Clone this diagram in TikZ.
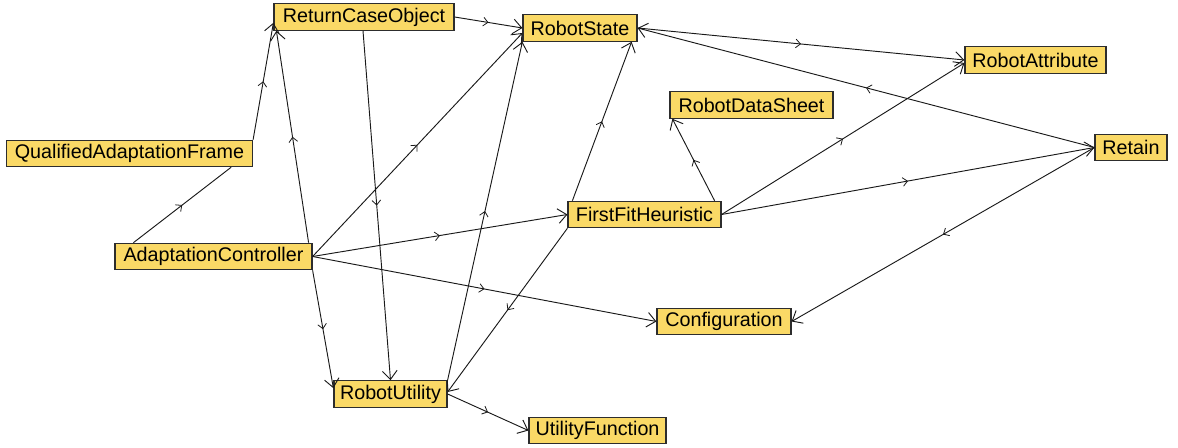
\documentclass[tikz,border=0pt]{standalone}
\usepackage{fontspec}
\setmainfont{Liberation Sans}
\usetikzlibrary{arrows.meta,decorations.markings,calc}
\definecolor{boxfill}{RGB}{250,217,102}
\definecolor{boxline}{RGB}{45,45,45}
\definecolor{edgecol}{RGB}{25,25,25}
\begin{document}
\begin{tikzpicture}[x=0.75pt,y=-0.75pt,
  cls/.style={draw=boxline, fill=boxfill, line width=0.9pt, inner sep=0pt,
    minimum height=19.8pt, font=\fontsize{14.8pt}{16pt}\selectfont},
  midarrow/.style={postaction={decorate}, decoration={markings,
    mark=at position 0.5 with {\arrow{Straight Barb[length=3.5pt,width=6.5pt,line width=0.6pt]}}}},
  plain/.style={draw=edgecol, line width=0.7pt, midarrow},
  link/.style={plain, -{Straight Barb[length=6.5pt,width=11pt,line width=0.7pt]}},
]
\useasboundingbox (0,0) rectangle (1178,448);

% classes
\node[cls, minimum width=135pt]    (rco)    at (364,17)      {ReturnCaseObject};
\node[cls, minimum width=85.5pt]   (rs)     at (580,28)      {RobotState};
\node[cls, minimum width=105.75pt] (ra)     at (1035.5,60)   {RobotAttribute};
\node[cls, minimum width=122.25pt] (rds)    at (751.5,105)   {RobotDataSheet};
\node[cls, minimum width=184.5pt]  (qaf)    at (129.5,153.5) {QualifiedAdaptationFrame};
\node[cls, minimum width=54pt]     (retain) at (1131,147.5)  {Retain};
\node[cls, minimum width=114.75pt] (ffh)    at (644.5,214.5) {FirstFitHeuristic};
\node[cls, minimum width=147.75pt] (ac)     at (213.5,256.5) {AdaptationController};
\node[cls, minimum width=100.5pt]  (conf)   at (724,321.5)   {Configuration};
\node[cls, minimum width=84.75pt]  (ru)     at (390.5,394)   {RobotUtility};
\node[cls, minimum width=102.75pt] (uf)     at (597.5,430.5) {UtilityFunction};

% relations
\draw[plain] ($(ac.north west)+(19,0)$) -- ($(qaf.south east)+(-22,0)$);
\draw[link] (qaf.north east) -- ($(rco.south west)+(0,-8)$);
\draw[link] ($(ac.north east)+(-4,0)$) -- ($(rco.south west)+(3,0)$);
\draw[link] (ac.south east) -- ($(ru.north west)+(0,8)$);
\draw[link] ($(rco.south)+(-1,0)$) -- (ru.north);
\draw[link] (rco.east) -- (rs.west);
\draw[link] (ac.east) -- ($(rs.west)+(0,5)$);
\draw[link] (ac.east) -- (ffh.west);
\draw[link] (ac.east) -- (conf.west);
\draw[link] (ru.north east) -- (rs.south west);
\draw[link] ($(ffh.north west)+(5,0)$) -- ($(rs.south east)+(-6,0)$);
\draw[link] (ffh.south west) -- ($(ru.east)+(0,-2)$);
\draw[link] (ru.east) -- (uf.west);
\draw[link] (rs.east) -- (ra.west);
\draw[link] (retain.west) -- (rs.east);
\draw[link] ($(ffh.north east)+(-7,0)$) -- ($(rds.south west)+(3,0)$);
\draw[link] (ffh.east) -- ($(ra.west)+(0,3)$);
\draw[link] (ffh.east) -- (retain.west);
\draw[link] (retain.west) -- (conf.east);
\end{tikzpicture}
\end{document}
